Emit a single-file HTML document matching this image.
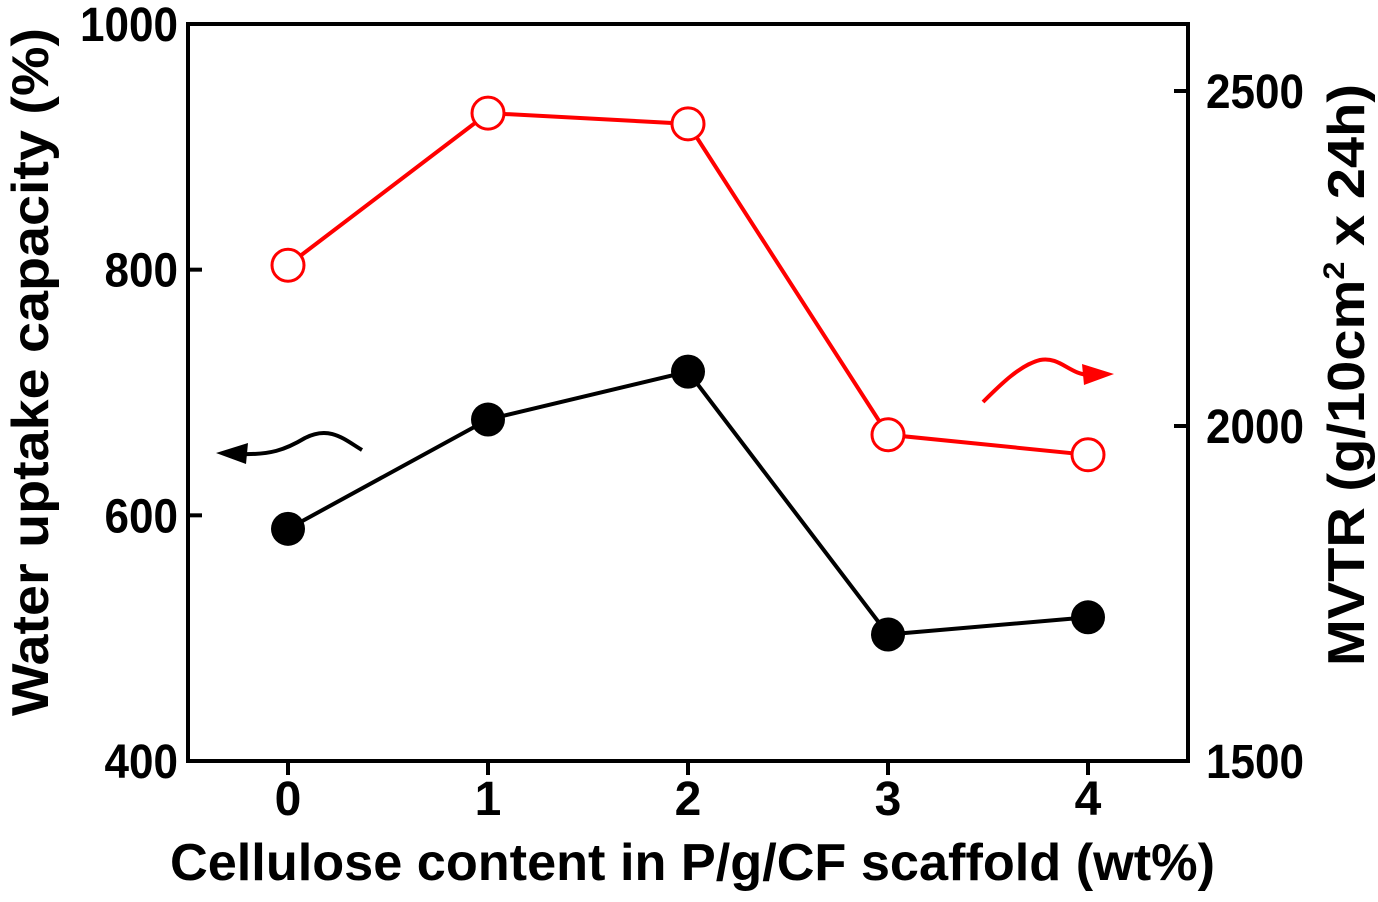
<!DOCTYPE html>
<html><head><meta charset="utf-8"><style>
html,body{margin:0;padding:0;background:#fff;}
svg text{font-family:"Liberation Sans",Arial,sans-serif;font-weight:bold;fill:#000;}
</style></head><body>
<svg id="chart" width="1378" height="897" viewBox="0 0 1378 897" xmlns="http://www.w3.org/2000/svg">
<g id="axes"></g>
<g id="marks"></g>
<path d="M362,450 C345,440 330,425 305,438 C285,450 270,455 240,454" fill="none" stroke="#000" stroke-width="4"/>
<polygon points="216,453 248,443 246,464" fill="#000"/>
<path d="M983,402 C1000,385 1020,365 1040,360 C1060,356 1070,375 1090,375" fill="none" stroke="#f00" stroke-width="4"/>
<polygon points="1114,374 1082,364 1084,385" fill="#f00"/>
<text x="170" y="880" font-size="52" textLength="1045" lengthAdjust="spacingAndGlyphs">Cellulose content  in P/g/CF scaffold (wt%)</text>
<text transform="translate(48,716) rotate(-90)" font-size="52" textLength="688" lengthAdjust="spacingAndGlyphs">Water uptake capacity (%)</text>
<text transform="translate(1364,666) rotate(-90)" font-size="52" textLength="582" lengthAdjust="spacingAndGlyphs">MVTR (g/10cm<tspan font-size="30" dy="-20">2</tspan><tspan dy="20"> x 24h)</tspan></text>
</svg>
<script>
const categories = [0, 1, 2, 3, 4];
const waterUptake = [589, 678, 717, 503, 517];
const mvtr = [2240, 2467, 2451, 1987, 1957];
const leftTicks = [400, 600, 800, 1000];
const rightTicks = [1500, 2000, 2500];

const L = 188, R = 1188, T = 24, B = 761;
const x = v => L + (v + 0.5) / 5 * (R - L);
const yL = v => B - (v - 400) / 600 * (B - T);
const yR = v => 761 - (v - 1500) / 500 * 335;
const NS = "http://www.w3.org/2000/svg";
function mk(parent, tag, attrs) {
  const e = document.createElementNS(NS, tag);
  for (const k in attrs) e.setAttribute(k, attrs[k]);
  parent.appendChild(e);
  return e;
}
const axes = document.getElementById('axes');
const marks = document.getElementById('marks');
const frame = mk(axes, 'rect', {x: L, y: T, width: R - L, height: B - T, fill: 'none', stroke: '#000', 'stroke-width': 4});


categories.forEach(c => {
  const t = mk(axes, 'line', {x1: x(c), x2: x(c), y1: B, y2: B + 14, stroke: '#000', 'stroke-width': 4});
  
  
  const l = mk(axes, 'text', {x: x(c), y: 815, 'font-size': 48, 'text-anchor': 'middle'});
  l.textContent = c;
  
  
});
leftTicks.forEach(v => {
  const t = mk(axes, 'line', {x1: L, x2: L + 14, y1: yL(v), y2: yL(v), stroke: '#000', 'stroke-width': 4});
  
  
  const w = String(v).length * 24.5;
  const l = mk(axes, 'text', {x: 178 - w, y: yL(v) + 17, 'font-size': 48, textLength: w, lengthAdjust: 'spacingAndGlyphs'});
  l.textContent = v;
  
  
});
rightTicks.forEach(v => {
  const t = mk(axes, 'line', {x1: R - 14, x2: R, y1: yR(v), y2: yR(v), stroke: '#000', 'stroke-width': 4});
  
  
  const l = mk(axes, 'text', {x: 1206, y: yR(v) + 17, 'font-size': 48, textLength: 98, lengthAdjust: 'spacingAndGlyphs'});
  l.textContent = v;
  
  
});
const lineW = mk(marks, 'polyline', {points: categories.map((c, i) => x(c) + ',' + yL(waterUptake[i])).join(' '), fill: 'none', stroke: '#000', 'stroke-width': 4});


const lineM = mk(marks, 'polyline', {points: categories.map((c, i) => x(c) + ',' + yR(mvtr[i])).join(' '), fill: 'none', stroke: '#f00', 'stroke-width': 4});


categories.forEach((c, i) => {
  const p = mk(marks, 'circle', {cx: x(c), cy: yL(waterUptake[i]), r: 17, fill: '#000'});
  
  
  const q = mk(marks, 'circle', {cx: x(c), cy: yR(mvtr[i]), r: 16, fill: '#fff', stroke: '#f00', 'stroke-width': 3});
  
  
});
</script>
</body></html>
